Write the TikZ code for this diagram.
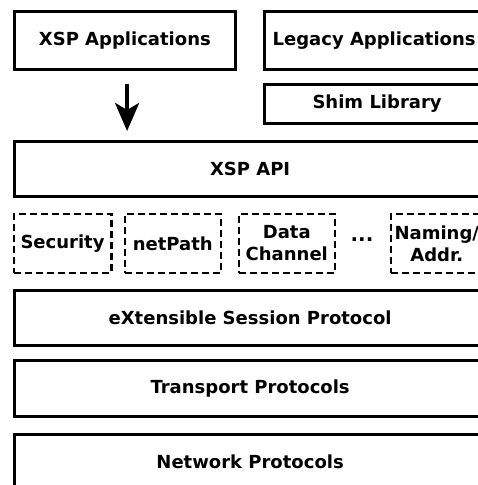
\documentclass[tikz,border=0pt]{standalone}
\usepackage{fontspec}
\setmainfont{DejaVu Sans}
\usetikzlibrary{positioning,arrows.meta}

\begin{document}
\begin{tikzpicture}[x=1pt, y=-1pt,
  layer/.style={draw, line width=3.2pt, anchor=north west, inner sep=0pt, minimum height=55pt},
  module/.style={draw, dashed, dash pattern=on 7pt off 4pt, line width=2.6pt, anchor=north west,
    inner sep=0pt, minimum width=96pt, minimum height=59pt, align=center},
  every node/.style={font=\fontsize{18}{22}\selectfont\bfseries}
]
\clip (0,0) rectangle (478,485);

% applications on top
\node[layer, minimum width=221.5pt, minimum height=58pt] (apps) at (12.5,10) {XSP Applications};
\node[layer, minimum width=219pt, minimum height=58pt] (legacy) at (263,10) {Legacy Applications};
\node[layer, minimum width=225pt, minimum height=39pt] (shim) at (263,82.5) {Shim Library};

\node[layer, minimum width=472pt] (api) at (12.5,139.5) {XSP API};

% modules
\node[module, minimum width=97.5pt] (sec) at (12.5,212.5) {Security};
\node[module] (netpath) at (123.5,212.5) {netPath};
\node[module] (data) at (237.5,212.5) {Data\\Channel};
\node[font=\fontsize{20}{22}\selectfont\bfseries] (dots) at (362,240) {...};
\node[module, minimum width=92pt] (naming) at (389.5,212.5) {Naming/\\Addr.};

\node[layer, minimum width=472pt] (xsp) at (12.5,288.5) {eXtensible Session Protocol};
\node[layer, minimum width=472pt, minimum height=56pt] (transport) at (12.5,359) {Transport Protocols};
\node[layer, minimum width=472pt] (network) at (12.5,432.5) {Network Protocols};

\draw[line width=4pt, -{Stealth[length=28pt, width=24pt, inset=7pt]}, shorten <=13pt, shorten >=8.5pt]
  ([xshift=2.25pt]apps.south) -- ([xshift=2.25pt]apps.south |- api.north);
\end{tikzpicture}
\end{document}
